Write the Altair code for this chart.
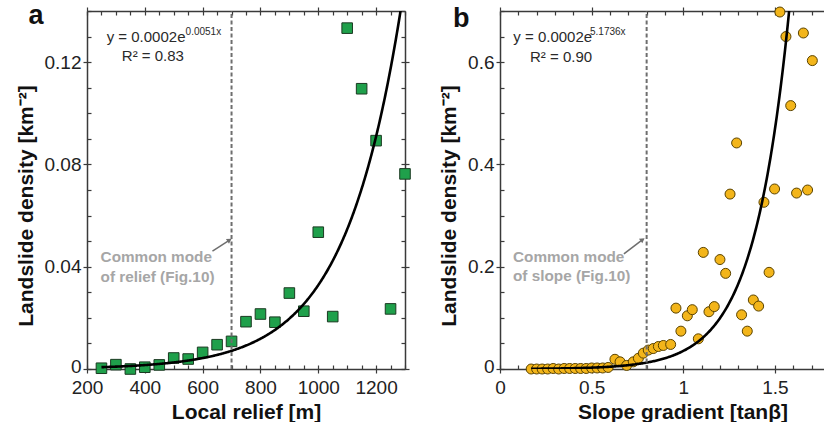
import altair as alt
import pandas as pd

FONT = "Liberation Sans"
AXIS_COLOR = "#3a3a3a"
GREEN = "#1fa04b"
GREEN_EDGE = "#1b3a22"
YELLOW = "#f3b51a"
YELLOW_EDGE = "#5a4300"
NOTE_GREY = "#a6a6a6"
DASH_GREY = "#6e6e6e"

# ---------------- panel a : local relief ----------------
relief_m = [250, 300, 350, 400, 450, 500, 550, 600, 650, 700, 750, 800,
            850, 900, 950, 1000, 1050, 1100, 1150, 1200, 1250, 1300]
relief_density = [0.0003, 0.0017, 0.0000, 0.0007, 0.0016, 0.0043, 0.0039,
                  0.0065, 0.0095, 0.0108, 0.0185, 0.0215, 0.0183, 0.0297,
                  0.0226, 0.0535, 0.0205, 0.1333, 0.1096, 0.0893, 0.0235,
                  0.0763]

# ---------------- panel b : slope gradient ----------------
slope_tan = [0.17, 0.20, 0.23, 0.26, 0.29, 0.32, 0.35, 0.38, 0.41, 0.44,
             0.47, 0.50, 0.53, 0.56, 0.59,
             0.627, 0.655, 0.691, 0.727, 0.755, 0.782, 0.809, 0.836, 0.864,
             0.891, 0.931,
             0.960, 0.987, 1.022, 1.049, 1.082, 1.109, 1.140, 1.169, 1.200,
             1.231, 1.255, 1.291, 1.318, 1.349, 1.382, 1.411, 1.440, 1.468,
             1.498, 1.527, 1.560, 1.586, 1.618, 1.655, 1.678, 1.704]
slope_density = [0.000, 0.000, 0.000, 0.000, 0.001, 0.000, 0.001, 0.001,
                 0.001, 0.001, 0.001, 0.002, 0.002, 0.002, 0.003,
                 0.019, 0.014, 0.007, 0.014, 0.021, 0.031, 0.037, 0.040,
                 0.044, 0.046, 0.048,
                 0.119, 0.074, 0.104, 0.116, 0.059, 0.228, 0.112, 0.122,
                 0.214, 0.187, 0.342, 0.442, 0.106, 0.074, 0.135, 0.123,
                 0.326, 0.189, 0.352, 0.698, 0.650, 0.515, 0.344, 0.657,
                 0.350, 0.603]

# printed exponential fits  y = a * exp(b x)
fit_a = (0.0002, 0.0051)
fit_b = (0.0002, 5.1736)
eq_a = ("y = 0.0002e", "0.0051x", "R² = 0.83")
eq_b = ("y = 0.0002e", "5.1736x", "R² = 0.90")
mode_a = 700
mode_b = 0.8
note_a = ["Common mode", "of relief (Fig.10)"]
note_b = ["Common mode", "of slope (Fig.10)"]

# tick values
a_x_major = [200, 400, 600, 800, 1000, 1200]
a_x_minor = list(range(200, 1301, 50))
a_y_major = [0, 0.04, 0.08, 0.12]
a_y_minor = [round(0.01 * i, 2) for i in range(15)]
b_x_major = [0, 0.5, 1, 1.5]
b_x_minor = [round(0.1 * i, 1) for i in range(18)]
b_y_major = [0, 0.2, 0.4, 0.6]
b_y_minor = [round(0.05 * i, 2) for i in range(15)]

TICK = 4


def main_axis(orient, values, fmt="~g", title=None, labels=True, **kw):
    opts = dict(orient=orient, values=values, format=fmt, tickSize=TICK,
                domain=True, domainColor=AXIS_COLOR, domainWidth=1.5,
                tickColor=AXIS_COLOR, tickWidth=1.2, labels=labels,
                labelFlush=False, labelOverlap=False,
                grid=False, labelFont=FONT, labelFontSize=19,
                labelColor="#222222", labelPadding=2,
                titleFont=FONT, titleFontSize=21, titleFontWeight="bold",
                titleColor="#111111", title=title)
    opts.update(kw)
    return alt.Axis(**opts)


def inner_axis(orient, values):
    return alt.Axis(orient=orient, values=values, tickSize=TICK, offset=-TICK,
                    domain=False, labels=False, title=None, grid=False,
                    tickColor=AXIS_COLOR, tickWidth=1.2)


def panel(xs, ys, xname, yname, xdom, ydom, width, fit, curve_rng, mode,
          eq, eq_pos, note, note_pos, arrow_pts, arrow_angle, letter,
          letter_pos, pts_mark, x_major, x_minor, y_major, y_minor, xfmt,
          yfmt, xtitle, x_title_x, right_axis):
    xsc = alt.Scale(domain=xdom, nice=False, zero=False)
    ysc = alt.Scale(domain=ydom, nice=False, zero=False)
    df = pd.DataFrame({xname: xs, yname: ys})

    xkw = {"titlePadding": 4, "labelPadding": 5}
    if x_title_x is not None:
        xkw["titleX"] = x_title_x
    points = pts_mark(alt.Chart(df)).encode(
        x=alt.X(f"{xname}:Q", scale=xsc,
                axis=main_axis("bottom", x_major, xfmt, xtitle, **xkw)),
        y=alt.Y(f"{yname}:Q", scale=ysc,
                axis=main_axis("left", y_major, yfmt,
                               "Landslide density [km⁻²]", titlePadding=8,
                               titleY=194.5,
                               labelOffset={"condition": {"test": "datum.value === 0",
                                                          "value": -3},
                                            "value": 0})),
    )

    curve = (
        alt.Chart(alt.sequence(curve_rng[0], curve_rng[1], curve_rng[2], as_=xname))
        .transform_calculate(**{yname: f"{fit[0]}*exp({fit[1]}*datum['{xname}'])"})
        .mark_line(color="black", strokeWidth=2.6, clip=True)
        .encode(
            x=alt.X(f"{xname}:Q", scale=xsc, axis=inner_axis("bottom", x_minor)),
            y=alt.Y(f"{yname}:Q", scale=ysc, axis=inner_axis("left", y_minor)),
        )
    )

    rule = (
        alt.Chart(pd.DataFrame({xname: [mode], yname: [ydom[0]]}))
        .mark_rule(color=DASH_GREY, strokeWidth=2, strokeDash=[4, 2.5])
        .encode(
            x=alt.X(f"{xname}:Q", scale=xsc,
                    axis=main_axis("top", x_major, labels=False)),
            y=alt.Y(f"{yname}:Q", scale=ysc,
                    axis=main_axis("right", y_major, labels=False) if right_axis else None),
            y2=alt.value(0),
        )
    )

    note_df = pd.DataFrame({xname: [note_pos[0]] * 2,
                            yname: [note_pos[1], note_pos[2]],
                            "label": note})
    notes = (
        alt.Chart(note_df)
        .mark_text(font=FONT, fontSize=15.3, fontWeight="bold",
                   color=NOTE_GREY, align="left", baseline="middle")
        .encode(
            x=alt.X(f"{xname}:Q", scale=xsc, axis=inner_axis("top", x_minor)),
            y=alt.Y(f"{yname}:Q", scale=ysc,
                    axis=inner_axis("right", y_minor) if right_axis else None),
            text="label:N",
        )
    )

    def txt(label, px, py, size, align):
        d = pd.DataFrame({xname: [px], yname: [py], "label": [label]})
        return (
            alt.Chart(d)
            .mark_text(font=FONT, fontSize=size, color="#2a2a2a", align=align,
                       baseline="middle")
            .encode(x=alt.X(f"{xname}:Q", scale=xsc, axis=None),
                    y=alt.Y(f"{yname}:Q", scale=ysc, axis=None),
                    text="label:N")
        )

    eq_main = txt(eq[0], eq_pos[0], eq_pos[1], 15, "left")
    eq_sup = txt(eq[1], eq_pos[2], eq_pos[3], 10, "left")
    eq_r2 = txt(eq[2], eq_pos[4], eq_pos[5], 15, "center")

    arrow_df = pd.DataFrame({xname: [arrow_pts[0], arrow_pts[2]],
                             yname: [arrow_pts[1], arrow_pts[3]]})
    arrow_line = (
        alt.Chart(arrow_df)
        .mark_line(color=DASH_GREY, strokeWidth=1.5)
        .encode(x=alt.X(f"{xname}:Q", scale=xsc, axis=None),
                y=alt.Y(f"{yname}:Q", scale=ysc, axis=None))
    )
    head_df = pd.DataFrame({xname: [arrow_pts[2]], yname: [arrow_pts[3]]})
    arrow_head = (
        alt.Chart(head_df)
        .mark_point(shape="triangle-up", size=32, filled=True, opacity=1,
                    color=DASH_GREY, angle=arrow_angle)
        .encode(x=alt.X(f"{xname}:Q", scale=xsc, axis=None),
                y=alt.Y(f"{yname}:Q", scale=ysc, axis=None))
    )

    letter_layer = (
        alt.Chart(pd.DataFrame({"label": [letter]}))
        .mark_text(font=FONT, fontSize=27, fontWeight="bold", color="#111111",
                   align="left", baseline="alphabetic")
        .encode(x=alt.value(letter_pos[0]), y=alt.value(letter_pos[1]),
                text="label:N")
    )

    return (
        alt.layer(points, curve, rule, notes, eq_main, eq_sup, eq_r2,
                  arrow_line, arrow_head, letter_layer)
        .resolve_axis(x="independent", y="independent")
        .properties(width=width, height=358)
    )


panel_a = panel(
    relief_m, relief_density, "relief", "density", [200, 1300], [0, 0.14], 318,
    fit_a, (250, 1292, 2), mode_a, eq_a,
    (268, 0.1298, 541, 0.1317, 428, 0.1224),
    note_a, (247, 0.0438, 0.0360),
    (634, 0.0461, 693, 0.0504), 57, "a", (-58.5, 13),
    lambda c: c.mark_square(size=112, fill=GREEN, stroke=GREEN_EDGE,
                            strokeWidth=1, opacity=1),
    a_x_major, a_x_minor, a_y_major, a_y_minor, "d", ".2~f",
    "Local relief [m]", None, True,
)

panel_b = panel(
    slope_tan, slope_density, "slope", "density", [0, 1.7676], [0, 0.7], 324,
    fit_b, (0.17, 1.6, 0.005), mode_b, eq_b,
    (0.0726, 0.650, 0.491, 0.6595, 0.333, 0.6106),
    note_b, (0.071, 0.219, 0.182),
    (0.676, 0.225, 0.778, 0.253), 53, "b", (-47, 16),
    lambda c: c.mark_circle(size=100, fill=YELLOW, stroke=YELLOW_EDGE,
                            strokeWidth=1, opacity=1),
    b_x_major, b_x_minor, b_y_major, b_y_minor, ".1~f", ".1~f",
    "Slope gradient [tanβ]", 182.5, False,
)

chart = (
    alt.hconcat(panel_a, panel_b, spacing=25)
    .properties(padding={"left": 15, "top": 2, "right": 0, "bottom": 0},
                background="white")
    .configure_view(stroke=None)
)

chart.save("out.html", embed_options={"renderer": "svg", "actions": False})
